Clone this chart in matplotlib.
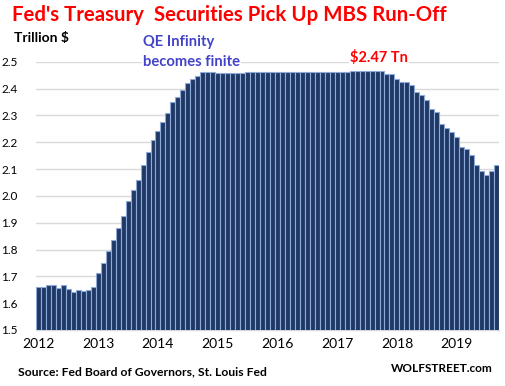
import matplotlib
matplotlib.use("Agg")
import matplotlib.pyplot as plt
import numpy as np

plt.rcParams['font.family'] = ['Lato', 'DejaVu Sans']

# monthly Treasury securities held by the Fed, trillion $ (Jan 2012 - Sep 2019)
y2012 = [1.662, 1.662, 1.666, 1.666, 1.655, 1.666, 1.651, 1.641, 1.648, 1.644, 1.648, 1.659]
y2013 = [1.711, 1.748, 1.793, 1.837, 1.882, 1.926, 1.982, 2.023, 2.060, 2.116, 2.164, 2.209]
y2014 = [2.242, 2.277, 2.309, 2.350, 2.369, 2.395, 2.421, 2.434, 2.447, 2.462, 2.462, 2.462]
y2015 = [2.458, 2.458, 2.458, 2.458, 2.458, 2.458, 2.462, 2.462, 2.462, 2.462, 2.462, 2.462]
y2016 = [2.462] * 12
y2017 = [2.462, 2.462, 2.462, 2.466, 2.466, 2.466, 2.466, 2.466, 2.466, 2.466, 2.454, 2.454]
y2018 = [2.436, 2.425, 2.425, 2.413, 2.387, 2.376, 2.358, 2.324, 2.313, 2.268, 2.254, 2.239]
y2019 = [2.220, 2.183, 2.175, 2.153, 2.116, 2.094, 2.079, 2.094, 2.116]

values = y2012 + y2013 + y2014 + y2015 + y2016 + y2017 + y2018 + y2019
years = ['2012', '2013', '2014', '2015', '2016', '2017', '2018', '2019']
yticks = [1.5, 1.6, 1.7, 1.8, 1.9, 2.0, 2.1, 2.2, 2.3, 2.4, 2.5]

fig = plt.figure(figsize=(5.06, 3.86), dpi=100)
ax = fig.add_axes([36 / 506, 1 - 330 / 386, 463 / 506, 268.3 / 386])

x = np.arange(len(values))
ax.bar(x, values, width=1.0, color='#1f3864', edgecolor='#8eaadb', linewidth=0.8, zorder=3)

ax.set_ylim(1.5, 2.5)
ax.set_xlim(-0.5, len(values) - 0.5)
ax.set_yticks(yticks)
ax.set_yticklabels(['%.1f' % v for v in yticks], fontsize=8.5)
ax.set_xticks(np.arange(len(years)) * 12)
ax.set_xticklabels(years, fontsize=10)
ax.tick_params(axis='both', length=0)
ax.tick_params(axis='y', pad=13)
ax.tick_params(axis='x', pad=6)
ax.grid(axis='y', color='#d9d9d9', linewidth=1, zorder=0)
for s in ['left', 'right', 'top']:
    ax.spines[s].set_visible(False)
ax.spines['bottom'].set_color('#d9d9d9')
ax.spines['bottom'].set_linewidth(1)

fig.text(12 / 506, 1 - 15 / 386, "Fed's Treasury  Securities Pick Up MBS Run-Off",
         color='#ff0000', fontsize=14.7, fontweight='bold', va='center', ha='left')
fig.text(14 / 506, 1 - 38 / 386, "Trillion $", color='black', fontsize=10,
         fontweight='bold', va='center', ha='left')
fig.text(143 / 506, 1 - 42 / 386, "QE Infinity", color='#4343c8', fontsize=10.6,
         fontweight='bold', va='center', ha='left')
fig.text(143 / 506, 1 - 62 / 386, "becomes finite", color='#4343c8', fontsize=10.6,
         fontweight='bold', va='center', ha='left',
         bbox=dict(facecolor='white', edgecolor='none', pad=1))
fig.text(350 / 506, 1 - 58 / 386, "$2.47 Tn", color='#ff0000', fontsize=10.5,
         fontweight='bold', va='center', ha='left',
         bbox=dict(facecolor='white', edgecolor='none', pad=1))
fig.text(18 / 506, 1 - 372 / 386, "Source: Fed Board of Governors, St. Louis Fed",
         color='black', fontsize=8.7, fontweight='bold', va='center', ha='left')
fig.text(493 / 506, 1 - 369 / 386, "WOLFSTREET.com", color='black', fontsize=8.5,
         fontweight='bold', va='center', ha='right')

fig.savefig('out.png', dpi=100)
